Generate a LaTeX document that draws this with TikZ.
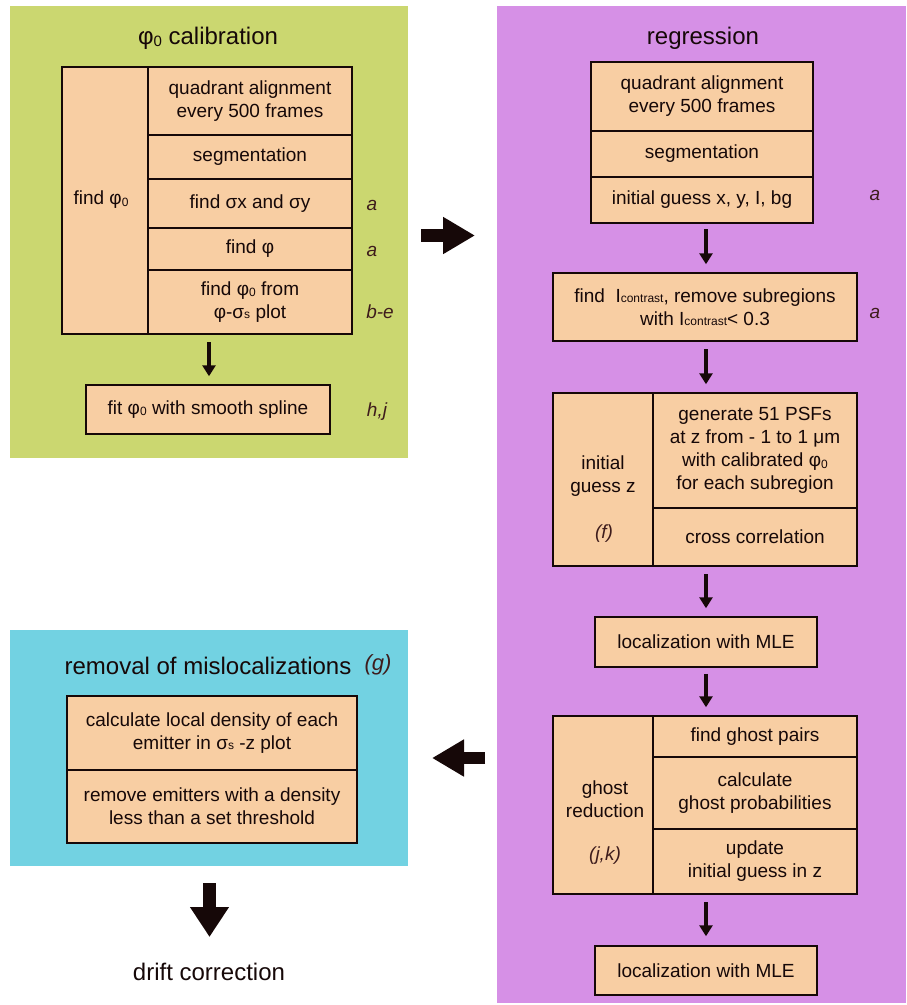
\documentclass[tikz,border=0pt]{standalone}
\usepackage{fontspec}
\setmainfont{Liberation Sans}
\usetikzlibrary{arrows.meta}
\definecolor{greenbg}{RGB}{203,215,112}
\definecolor{purplebg}{RGB}{214,144,230}
\definecolor{bluebg}{RGB}{114,210,226}
\definecolor{cellfill}{RGB}{248,206,163}
\definecolor{ink}{RGB}{22,8,8}
\definecolor{labink}{RGB}{62,28,28}
\newcommand{\lowsub}[1]{\raisebox{-1.5pt}{\fontsize{12}{12}\selectfont #1}}
\newcommand{\biglowsub}[1]{\raisebox{-2pt}{\fontsize{15}{15}\selectfont #1}}
\newcommand{\insub}[1]{{\fontsize{12}{12}\selectfont #1}}
\newcommand{\cellbox}[6]{\node[cell, minimum width={#4-#2}, minimum height={#5-#3}] (#1) at ({(#2+#4)/2},{(#3+#5)/2}) {#6};}
\newcommand{\panelbox}[6]{\node[panel, fill=#6, minimum width={#4-#2}, minimum height={#5-#3}] (#1) at ({(#2+#4)/2},{(#3+#5)/2}) {};}
\tikzset{
  cell/.style={draw=ink, line width=1.5pt, fill=cellfill, align=center, inner sep=0pt,
    font=\fontsize{19}{23}\selectfont, text=ink},
  panel/.style={draw=none, inner sep=0pt, outer sep=0pt},
  txt/.style={align=center, inner sep=0pt, font=\fontsize{19}{23}\selectfont, text=ink},
  title/.style={inner sep=0pt, font=\fontsize{24}{28}\selectfont, text=ink},
  lab/.style={inner sep=0pt, font=\fontsize{19}{23}\selectfont\itshape, text=labink},
  flow/.style={draw=ink, line width=4pt, -{Triangle[width=13pt,length=11pt]}},
  big/.style={draw=ink, line width=12.5pt, -{Triangle[width=35pt,length=32pt]}}
}
\begin{document}
\begin{tikzpicture}[x=1pt,y=-1pt]
\useasboundingbox (0,0) rectangle (906,1005);
% panels
\panelbox{calib}{10}{6}{408}{458}{greenbg}
\panelbox{regr}{497}{6}{906}{1003}{purplebg}
\panelbox{remov}{10}{630}{408}{866}{bluebg}
% ---------- calibration ----------
\node[title] (calibtitle) at (208,38) {φ\biglowsub{0} calibration};
\cellbox{findphi}{62}{67}{148}{334}{}
\node[txt] (findphitxt) at (101,200) {find φ\lowsub{0}};
\cellbox{qa1}{148}{67}{352}{135}{quadrant alignment\\every 500 frames}
\cellbox{seg1}{148}{135}{352}{179}{segmentation}
\cellbox{sig}{148}{179}{352}{228}{find σx and σy}
\cellbox{phi}{148}{228}{352}{270}{find φ}
\cellbox{phizero}{148}{270}{352}{334}{find φ\lowsub{0} from\\φ-σ\insub{s} plot}
\cellbox{fit}{86}{385}{330}{434}{fit φ\lowsub{0} with smooth spline}
\node[lab] (la1) at (372,205) {a};
\node[lab] (la2) at (372,251) {a};
\node[lab] (la3) at (380,312) {b-e};
\node[lab] (la4) at (377,412) {h,j};
\coordinate (c1) at (209,334);
\draw[flow, shorten <=8pt, shorten >=8pt] (c1) -- (c1 |- fit.north);
% ---------- regression ----------
\node[title] (regrtitle) at (703,38) {regression};
\cellbox{qa2}{591}{62}{813}{131}{quadrant alignment\\every 500 frames}
\cellbox{seg2}{591}{131}{813}{177}{segmentation}
\cellbox{ig}{591}{177}{813}{223}{initial guess x, y, I, bg}
\node[lab] (lb1) at (875,195) {a};
\cellbox{ic}{553}{273}{857}{341}{find\ \ I\insub{contrast}, remove subregions\\with I\insub{contrast}< 0.3}
\node[lab] (lb2) at (875,313) {a};
\cellbox{igz}{553}{393}{653}{566}{}
\node[txt] (igztxt) at (603,476) {initial\\guess z};
\node[lab] (lf) at (604,534) {(f)};
\cellbox{gen}{653}{393}{857}{508}{generate 51 PSFs\\at z from - 1 to 1 μm\\with calibrated φ\lowsub{0}\\for each subregion}
\cellbox{cc}{653}{508}{857}{566}{cross correlation}
\cellbox{mleone}{595}{617}{817}{667}{localization with MLE}
\cellbox{ghost}{553}{716}{653}{894}{}
\node[txt] (ghosttxt) at (605,799) {ghost\\reduction};
\node[lab] (ljk) at (605,856) {(j,k)};
\cellbox{gp}{653}{716}{857}{757}{find ghost pairs}
\cellbox{cgp}{653}{757}{857}{829}{calculate\\ghost probabilities}
\cellbox{upd}{653}{829}{857}{894}{update\\initial guess in z}
\cellbox{mletwo}{595}{946}{817}{995}{localization with MLE}
\coordinate (r1) at (706,223);
\draw[flow, shorten <=6pt, shorten >=8pt] (r1) -- (r1 |- ic.north);
\coordinate (r2) at (706,341);
\draw[flow, shorten <=8pt, shorten >=8pt] (r2) -- (r2 |- igz.north);
\coordinate (r3) at (706,566);
\draw[flow, shorten <=8pt, shorten >=8pt] (r3) -- (r3 |- mleone.north);
\draw[flow, shorten <=6pt, shorten >=8pt] (mleone.south -| r3) -- (r3 |- ghost.north);
\coordinate (r5) at (706,894);
\draw[flow, shorten <=8pt, shorten >=9pt] (r5) -- (r5 |- mletwo.north);
% ---------- removal ----------
\node[title] (remtitle) at (208,666) {removal of mislocalizations};
\node[lab, font=\fontsize{22}{26}\selectfont\itshape] (lg) at (378,665) {(g)};
\cellbox{cal}{67}{696}{357}{770}{calculate local density of each\\emitter in σ\insub{s} -z plot}
\cellbox{rem}{67}{770}{357}{843}{remove emitters with a density\\less than a set threshold}
\node[title] (drift) at (209,972) {drift correction};
% ---------- big arrows ----------
\coordinate (ra) at (421,235.5);
\coordinate (rb) at (475,235.5);
\draw[big] (ra) -- (rb);
\coordinate (la) at (485,758);
\coordinate (lb) at (432,758);
\draw[big] (la) -- (lb);
\coordinate (da) at (209.5,883);
\coordinate (db) at (209.5,937);
\draw[big, -{Triangle[width=37pt,length=30pt]}] (da) -- (db);
\end{tikzpicture}
\end{document}
